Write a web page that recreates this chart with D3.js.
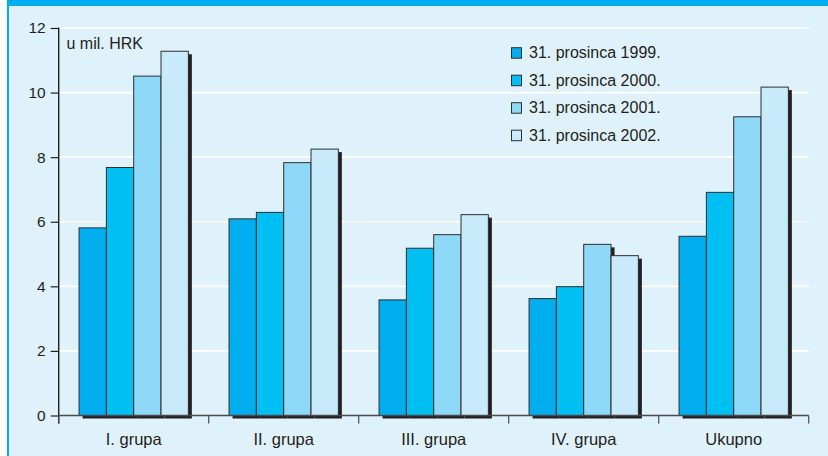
<!DOCTYPE html>
<html>
<head>
<meta charset="utf-8">
<script src="https://cdn.jsdelivr.net/npm/d3@7"></script>
<style>
  html, body { margin: 0; padding: 0; background: #ffffff; }
  svg { display: block; }
  text { font-family: "Liberation Sans", Arial, Helvetica, sans-serif; fill: #231f20; }
</style>
</head>
<body>
<script>
const categories = ["I. grupa", "II. grupa", "III. grupa", "IV. grupa", "Ukupno"];
const seriesNames = ["31. prosinca 1999.", "31. prosinca 2000.", "31. prosinca 2001.", "31. prosinca 2002."];
const s1999 = [5.81, 6.09, 3.58, 3.62, 5.55];
const s2000 = [7.68, 6.29, 5.18, 3.99, 6.91];
const s2001 = [10.51, 7.83, 5.60, 5.30, 9.25];
const s2002 = [11.28, 8.25, 6.22, 4.95, 10.17];
const yTicks = [0, 2, 4, 6, 8, 10, 12];
const colors = ["#00aeef", "#00bff3", "#8ed8f8", "#c8eafb"];
const unitLabel = "u mil. HRK";

const series = [s1999, s2000, s2001, s2002];
const W = 828, H = 456;
const mLeft = 58.7, mRight = 808.7, mTop = 28, mBottom = 415.5;

const svg = d3.select("body").append("svg").attr("width", W).attr("height", H);

// panel background
svg.append("rect").attr("x", 7).attr("y", 0).attr("width", W - 7).attr("height", H).attr("fill", "#dff1fb");
svg.append("rect").attr("x", 7).attr("y", 0).attr("width", 2).attr("height", H).attr("fill", "#00aeef");
svg.append("rect").attr("x", 7).attr("y", 0).attr("width", W - 7).attr("height", 6).attr("fill", "#00aeef");

const x0 = d3.scaleBand().domain(categories).range([mLeft, mRight]).paddingInner(0).paddingOuter(0);
const x1 = d3.scaleBand().domain(d3.range(4)).range([0, x0.bandwidth()]).paddingOuter(0.745).paddingInner(0);
const y = d3.scaleLinear().domain([0, 12]).range([mBottom, mTop]);

// gridlines
svg.append("g").selectAll("line").data(yTicks.filter(d => d > 0)).join("line")
  .attr("x1", mLeft).attr("x2", mRight)
  .attr("y1", d => y(d)).attr("y2", d => y(d))
  .attr("stroke", "#ffffff").attr("stroke-width", 1.6);

const data = [];
categories.forEach((c, i) => series.forEach((s, j) => data.push({c, j, v: s[i]})));

// shadows
svg.append("g").selectAll("rect").data(data).join("rect")
  .attr("x", d => x0(d.c) + x1(d.j) + 3.5)
  .attr("y", d => y(d.v) + 3)
  .attr("width", x1.bandwidth())
  .attr("height", d => mBottom - y(d.v))
  .attr("fill", "#231f20");

// bars
svg.append("g").selectAll("rect").data(data).join("rect")
  .attr("x", d => x0(d.c) + x1(d.j))
  .attr("y", d => y(d.v))
  .attr("width", x1.bandwidth())
  .attr("height", d => mBottom - y(d.v))
  .attr("fill", d => colors[d.j])
  .attr("stroke", "#2e2e2e").attr("stroke-width", 1);

// y axis
const yAxis = d3.axisLeft(y).tickValues(yTicks).tickSize(8).tickPadding(5);
const gy = svg.append("g").attr("transform", `translate(${mLeft},0)`).call(yAxis);
gy.select(".domain").remove();
gy.selectAll(".tick line").attr("stroke", "#231f20").attr("stroke-width", 1.2);
gy.selectAll(".tick text").attr("font-size", 15.5).attr("font-family", "Liberation Sans, Arial, sans-serif").attr("fill", "#231f20");
svg.append("line").attr("x1", mLeft).attr("x2", mLeft).attr("y1", y(12) - 0.5).attr("y2", mBottom + 8)
  .attr("stroke", "#231f20").attr("stroke-width", 1.4);

// x axis
svg.append("line").attr("x1", mLeft).attr("x2", mRight).attr("y1", mBottom).attr("y2", mBottom)
  .attr("stroke", "#4a4a4a").attr("stroke-width", 1.4);
const bounds = categories.map(c => x0(c)).concat([mRight]);
svg.append("g").selectAll("line").data(bounds).join("line")
  .attr("x1", d => d).attr("x2", d => d).attr("y1", mBottom).attr("y2", mBottom + 8)
  .attr("stroke", "#4a4a4a").attr("stroke-width", 1.2);
svg.append("g").selectAll("text").data(categories).join("text")
  .attr("x", d => x0(d) + x0.bandwidth() / 2).attr("y", 445)
  .attr("text-anchor", "middle").attr("font-size", 16.5).text(d => d);

// unit label
svg.append("text").attr("x", 66.5).attr("y", 49).attr("font-size", 16).text(unitLabel);

// legend
const lg = svg.append("g").selectAll("g").data(seriesNames).join("g")
  .attr("transform", (d, i) => `translate(511.5, ${52.7 + i * 27.5})`);
lg.append("rect").attr("x", 0).attr("y", -5).attr("width", 10).attr("height", 10.5)
  .attr("fill", (d, i) => colors[i]).attr("stroke", "#2e2e2e").attr("stroke-width", 1);
lg.append("text").attr("x", 17.5).attr("y", 5.5).attr("font-size", 16).text(d => d);
</script>
</body>
</html>
